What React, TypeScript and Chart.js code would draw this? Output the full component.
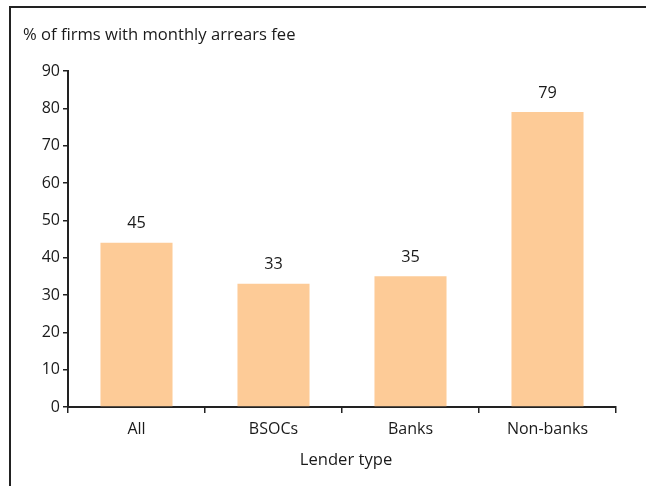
import React, { useEffect, useRef } from "react";
import { Chart, registerables } from "chart.js";

Chart.register(...registerables);

const categories = ["All", "BSOCs", "Banks", "Non-banks"];
const barValues = [44, 33, 35, 79];
const valueLabels = ["45", "33", "35", "79"];
const yTitle = "% of firms with monthly arrears fee";
const xTitle = "Lender type";

const FONT = "'Open Sans', Lato, sans-serif";
const TEXT = "#1a1a1a";

export default function App() {
  const ref = useRef<HTMLCanvasElement | null>(null);
  useEffect(() => {
    document.body.style.margin = "0";
    const canvas = ref.current!;
    const overlay = {
      id: "overlay",
      afterDraw(chart: any) {
        const ctx = chart.ctx;
        const y = chart.scales.y;
        const x = chart.scales.x;
        ctx.save();
        // frame
        ctx.strokeStyle = "#222";
        ctx.lineWidth = 2;
        ctx.beginPath();
        ctx.moveTo(10, 486);
        ctx.lineTo(10, 7);
        ctx.lineTo(646, 7);
        ctx.stroke();
        // titles
        ctx.fillStyle = TEXT;
        ctx.font = `16.6px ${FONT}`;
        ctx.textAlign = "left";
        ctx.textBaseline = "middle";
        ctx.fillText(yTitle, 23, 35);
        ctx.textAlign = "center";
        ctx.fillText(xTitle, (x.left + x.right) / 2 + 4, 460);
        // value labels
        ctx.font = `16.3px ${FONT}`;
        barValues.forEach((v, i) => {
          const px = x.getPixelForValue(i);
          const py = y.getPixelForValue(v) - 19;
          ctx.fillText(valueLabels[i], px, py);
        });
        ctx.restore();
      },
    };
    const chart = new Chart(canvas, {
      type: "bar",
      data: {
        labels: categories,
        datasets: [
          {
            data: barValues,
            backgroundColor: "#FDCB97",
            borderWidth: 0,
            barPercentage: 0.526,
            categoryPercentage: 1,
          },
        ],
      },
      options: {
        responsive: false,
        animation: false,
        layout: { padding: { left: 0, top: 71, right: 30, bottom: 0 } },
        plugins: { legend: { display: false }, tooltip: { enabled: false } },
        scales: {
          x: {
            afterFit: (s: any) => {
              s.height = 79;
            },
            grid: {
              display: true,
              drawOnChartArea: false,
              drawTicks: true,
              tickLength: 6,
              color: "#222",
              lineWidth: 1.5,
              offset: true,
            },
            border: { display: true, color: "#222", width: 2 },
            ticks: {
              color: TEXT,
              font: { family: FONT, size: 16 },
              padding: 7,
            },
          },
          y: {
            min: 0,
            max: 90,
            afterFit: (s: any) => {
              s.width = 68;
            },
            grid: {
              display: true,
              drawOnChartArea: false,
              drawTicks: true,
              tickLength: 5,
              color: "#222",
              lineWidth: 1.5,
            },
            border: { display: true, color: "#222", width: 2 },
            ticks: {
              stepSize: 10,
              color: TEXT,
              font: { family: FONT, size: 16 },
              padding: 3,
            },
          },
        },
      },
      plugins: [overlay],
    });
    return () => chart.destroy();
  }, []);
  return (
    <div style={{ position: "absolute", left: 0, top: 0, width: 646, height: 486, background: "#fff" }}>
      <canvas ref={ref} width={646} height={486} />
    </div>
  );
}
